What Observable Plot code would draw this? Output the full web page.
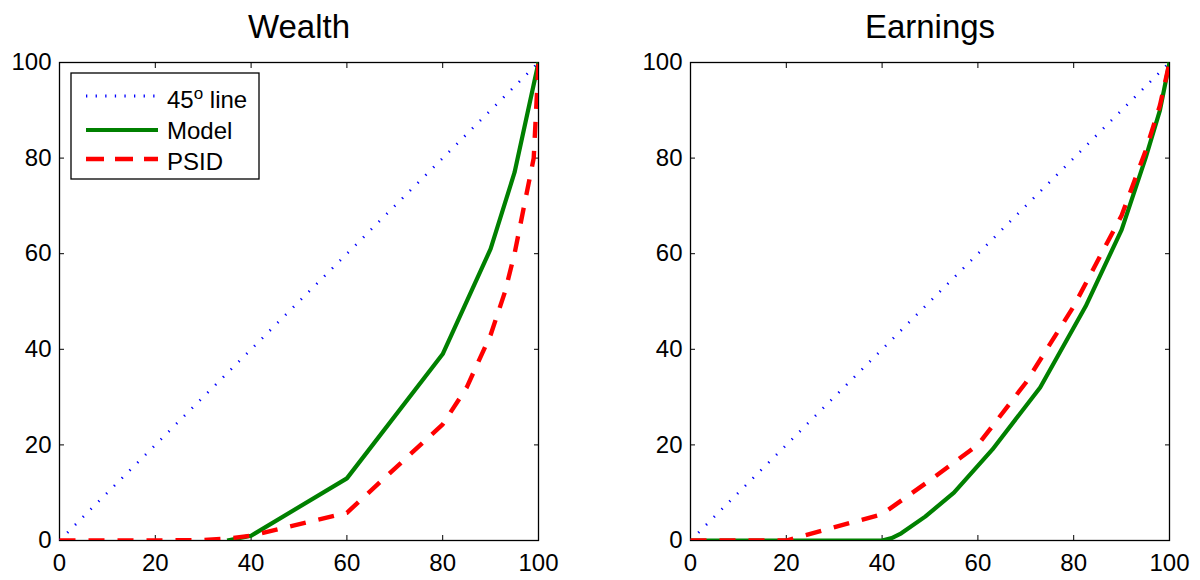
<!DOCTYPE html>
<html><head><meta charset="utf-8">
<script src="https://cdn.jsdelivr.net/npm/d3@7"></script>
<script src="https://cdn.jsdelivr.net/npm/@observablehq/plot@0.6"></script>
<style>
body{margin:0;background:#fff;}
#wrap{position:relative;width:1200px;height:580px;display:flex;font-family:"Liberation Sans",Arial,sans-serif;}
#wrap > svg{display:block;}
#legend{position:absolute;left:0;top:0;pointer-events:none;}
</style></head><body><div id="wrap"></div>
<script>
// ---- data ----
const xTicks = [0, 20, 40, 60, 80, 100];
const yTicks = [0, 20, 40, 60, 80, 100];
const innerTicks = [20, 40, 60, 80];
const titles = ["Wealth", "Earnings"];
const legendLabels = ["45", "Model", "PSID"];

const diagX = [0, 100];
const diagY = [0, 100];

const wealthModelX = [35, 40, 60, 80, 90, 95, 100];
const wealthModelY = [0, 1, 13, 39, 61, 77, 100];
const wealthPsidX = [0, 20, 30, 35, 40, 60, 80, 85, 90, 93, 95, 97, 99, 100];
const wealthPsidY = [0, 0, 0.1, 0.4, 1, 5.8, 24.3, 32, 43, 52, 60, 70, 80, 100];

const earnModelX = [0, 40, 42, 44, 49, 55, 63, 73, 82.5, 90, 95, 98, 100];
const earnModelY = [0, 0, 0.5, 1.5, 5, 10, 19, 32, 49, 65, 80, 90, 100];
const earnPsidX = [0, 20, 40, 50, 60, 70, 80, 90, 95, 98, 100];
const earnPsidY = [0, 0, 5.5, 12.6, 20, 33, 49, 68, 81.5, 91, 100];

const pts = (xs, ys) => xs.map((x, i) => ({x, y: ys[i]}));

const FONT = '"Liberation Sans", Arial, Helvetica, sans-serif';

function panel({title, diag, model, psid, marginLeft, marginRight}) {
  return Plot.plot({
    width: 600, height: 580,
    marginTop: 62, marginBottom: 40, marginLeft, marginRight,
    x: {domain: [0, 100]},
    y: {domain: [0, 100]},
    style: {fontFamily: FONT, fontSize: "24px", color: "black", background: "white", overflow: "visible"},
    marks: [
      Plot.frame({stroke: "black", strokeWidth: 1.3}),
      Plot.axisX({anchor: "bottom", ticks: xTicks, tickSize: 0, tickPadding: 13, fontSize: 24, label: null}),
      Plot.axisX({anchor: "bottom", ticks: innerTicks, tickSize: 5, dy: -5, fill: "none", label: null}),
      Plot.axisX({anchor: "top", ticks: innerTicks, tickSize: 5, dy: 5, fill: "none", label: null}),
      Plot.axisY({anchor: "left", ticks: yTicks, tickSize: 0, tickPadding: 8, fontSize: 24, label: null}),
      Plot.axisY({anchor: "left", ticks: innerTicks, tickSize: 5, dx: 5, fill: "none", label: null}),
      Plot.axisY({anchor: "right", ticks: innerTicks, tickSize: 5, dx: -5, fill: "none", label: null}),
      Plot.line(diag, {x: "x", y: "y", stroke: "blue", strokeWidth: 2.6, strokeDasharray: "1.3,9.7", strokeLinecap: "butt", clip: true}),
      Plot.line(model, {x: "x", y: "y", stroke: "#008000", strokeWidth: 4.2, strokeLinecap: "butt", strokeLinejoin: "round", clip: true}),
      Plot.line(psid, {x: "x", y: "y", stroke: "red", strokeWidth: 4.4, strokeDasharray: "16,13", strokeLinecap: "butt", strokeLinejoin: "round", clip: true}),
      Plot.text([title], {frameAnchor: "top", lineAnchor: "bottom", dy: -25, fontSize: 33, fill: "black"})
    ]
  });
}

const wrap = document.getElementById("wrap");
wrap.append(panel({
  title: titles[0],
  diag: pts(diagX, diagY),
  model: pts(wealthModelX, wealthModelY),
  psid: pts(wealthPsidX, wealthPsidY),
  marginLeft: 59, marginRight: 62
}));
wrap.append(panel({
  title: titles[1],
  diag: pts(diagX, diagY),
  model: pts(earnModelX, earnModelY),
  psid: pts(earnPsidX, earnPsidY),
  marginLeft: 90, marginRight: 31
}));

// ---- legend (left panel) ----
const ns = "http://www.w3.org/2000/svg";
const lg = document.createElementNS(ns, "svg");
lg.setAttribute("id", "legend");
lg.setAttribute("width", 600);
lg.setAttribute("height", 580);
lg.innerHTML = `
  <rect x="71" y="73" width="188" height="106" fill="white" stroke="black" stroke-width="1.3"/>
  <line x1="86" x2="158" y1="96" y2="96" stroke="blue" stroke-width="3" stroke-dasharray="1.3,8.3"/>
  <line x1="86" x2="158" y1="130" y2="130" stroke="#008000" stroke-width="4.2"/>
  <line x1="86" x2="158" y1="159" y2="159" stroke="red" stroke-width="4.4" stroke-dasharray="18,11"/>
  <g font-family='${FONT}' font-size="24" fill="black">
    <text x="167" y="108">${legendLabels[0]}<tspan dy="-9" font-size="17">o</tspan><tspan dy="9"> line</tspan></text>
    <text x="167" y="139">${legendLabels[1]}</text>
    <text x="167" y="170">${legendLabels[2]}</text>
  </g>`;
wrap.append(lg);
</script>
</body></html>
